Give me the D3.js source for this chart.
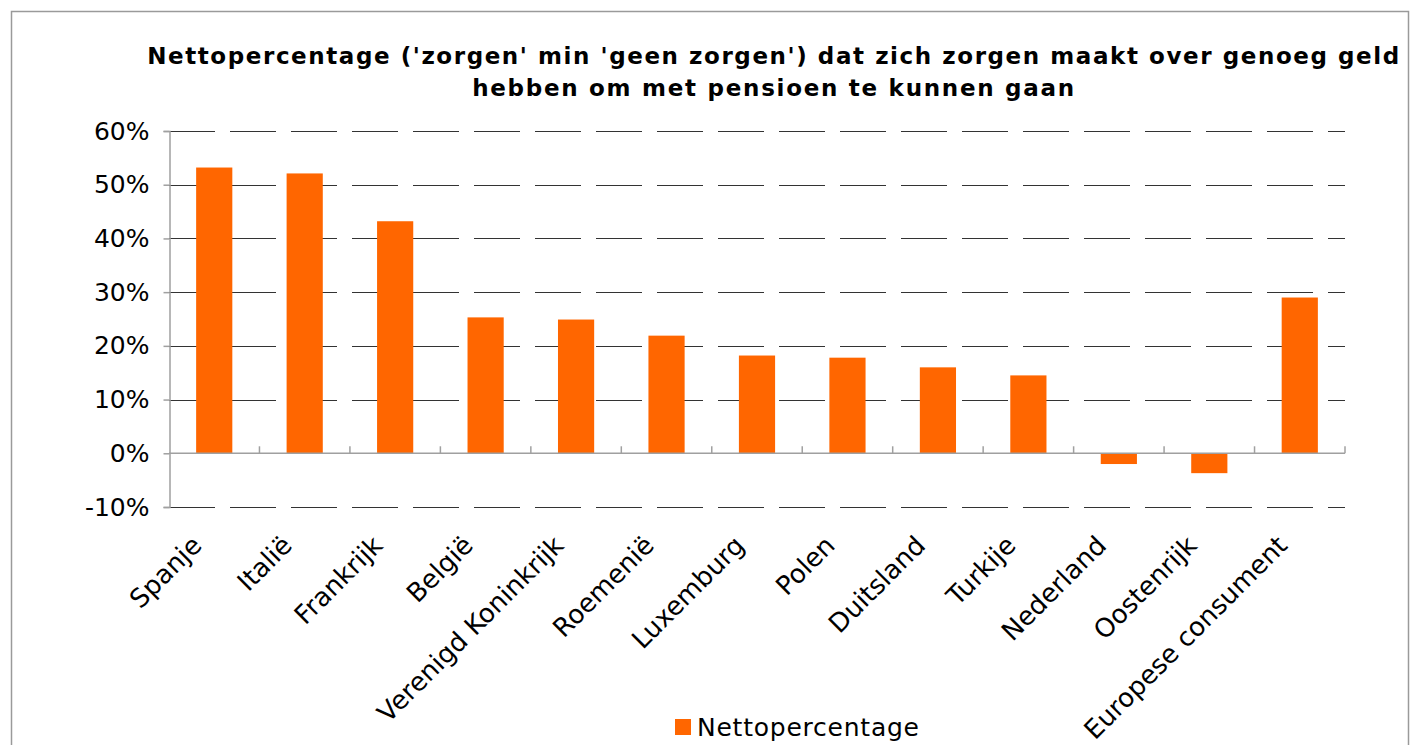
<!DOCTYPE html>
<html>
<head>
<meta charset="utf-8">
<script src="https://cdn.jsdelivr.net/npm/d3@7"></script>
<style>
  html, body { margin: 0; padding: 0; background: #fff; }
  svg { display: block; }
</style>
</head>
<body>
<svg id="chart" width="1411" height="745"></svg>
<script>
const categories = ["Spanje", "Italië", "Frankrijk", "België", "Verenigd Koninkrijk", "Roemenië",
  "Luxemburg", "Polen", "Duitsland", "Turkije", "Nederland", "Oostenrijk", "Europese consument"];
const values = [53.2, 52.1, 43.2, 25.3, 24.9, 21.9, 18.2, 17.8, 16.0, 14.5, -2.0, -3.7, 29.0];
const yTicks = [-10, 0, 10, 20, 30, 40, 50, 60];
const seriesName = "Nettopercentage";
const titleLines = ["Nettopercentage ('zorgen' min 'geen zorgen') dat zich zorgen maakt over genoeg geld",
  "hebben om met pensioen te kunnen gaan"];

const svg = d3.select("#chart");
const plot = { left: 169, right: 1345, top: 131, bottom: 507 };
const orange = "#FF6600";
const font = "'DejaVu Sans', Verdana, sans-serif";

// outer border
svg.append("rect").attr("x", 11.5).attr("y", 11.5).attr("width", 1397).attr("height", 760)
  .attr("fill", "#fff").attr("stroke", "#9a9a9a").attr("stroke-width", 1.5);

const x = d3.scaleBand().domain(categories).range([plot.left, plot.right]).paddingInner(0).paddingOuter(0);
const y = d3.scaleLinear().domain([-10, 60]).range([plot.bottom, plot.top]);

// title
const title = svg.append("g");
const titleTargets = [1252, 602];
titleLines.forEach((t, i) => {
  const tx = title.append("text")
    .attr("x", 774).attr("y", i === 0 ? 64 : 96)
    .attr("text-anchor", "middle")
    .attr("font-family", "'DejaVu Sans', Verdana, sans-serif")
    .attr("font-weight", "bold").attr("font-size", 23)
    .attr("fill", "#000").text(t);
  const len = tx.node().getComputedTextLength();
  const ls = (titleTargets[i] - len) / (t.length - 1);
  tx.attr("letter-spacing", ls.toFixed(3));
});

// gridlines
svg.append("g").selectAll("line").data(yTicks.filter(d => d !== 0)).join("line")
  .attr("x1", plot.left).attr("x2", plot.right)
  .attr("y1", d => Math.round(y(d)) + 0.5).attr("y2", d => Math.round(y(d)) + 0.5)
  .attr("stroke", "#333").attr("stroke-width", 1.2)
  .attr("stroke-dasharray", "46 15");

// y axis
const yAxis = d3.axisLeft(y).tickValues(yTicks).tickSize(6).tickFormat(d => d + "%").tickPadding(14);
const yg = svg.append("g").attr("transform", `translate(${plot.left + 0.5},0)`).call(yAxis);
yg.select(".domain").attr("stroke", "#a0a0a0").attr("stroke-width", 1.5);
yg.selectAll(".tick line").attr("stroke", "#a0a0a0").attr("stroke-width", 1.5);
yg.selectAll(".tick text").attr("font-family", font).attr("font-size", 25).attr("fill", "#000");

// bars
svg.append("g").selectAll("rect").data(values).join("rect")
  .attr("x", (d, i) => x(categories[i]) + x.bandwidth() * 0.3)
  .attr("width", x.bandwidth() * 0.4)
  .attr("y", d => y(Math.max(0, d)))
  .attr("height", d => Math.abs(y(d) - y(0)))
  .attr("fill", orange);

// x axis at zero
const boundaries = categories.map(c => x(c)).concat([plot.right]);
const xg = svg.append("g");
xg.append("line").attr("x1", plot.left).attr("x2", plot.right)
  .attr("y1", y(0)).attr("y2", y(0)).attr("stroke", "#a0a0a0").attr("stroke-width", 1.5);
xg.selectAll("line.tk").data(boundaries.slice(1)).join("line").attr("class", "tk")
  .attr("x1", d => d).attr("x2", d => d)
  .attr("y1", y(0)).attr("y2", y(0) - 7)
  .attr("stroke", "#a0a0a0").attr("stroke-width", 1.5);

// category labels
svg.append("g").selectAll("text").data(categories).join("text")
  .attr("transform", d => `translate(${x(d) + x.bandwidth() / 2 - 11},${plot.bottom + 40}) rotate(-45)`)
  .attr("text-anchor", "end")
  .attr("font-family", font).attr("font-size", 26).attr("fill", "#000")
  .text(d => d);

// legend
const lg = svg.append("g");
lg.append("rect").attr("x", 675).attr("y", 719).attr("width", 16).attr("height", 16).attr("fill", orange);
const lt = lg.append("text").attr("x", 697).attr("y", 736)
  .attr("font-family", font).attr("font-size", 25).attr("fill", "#000").text(seriesName);
const llen = lt.node().getComputedTextLength();
lt.attr("letter-spacing", ((222 - llen) / (seriesName.length - 1)).toFixed(3));
</script>
</body>
</html>
